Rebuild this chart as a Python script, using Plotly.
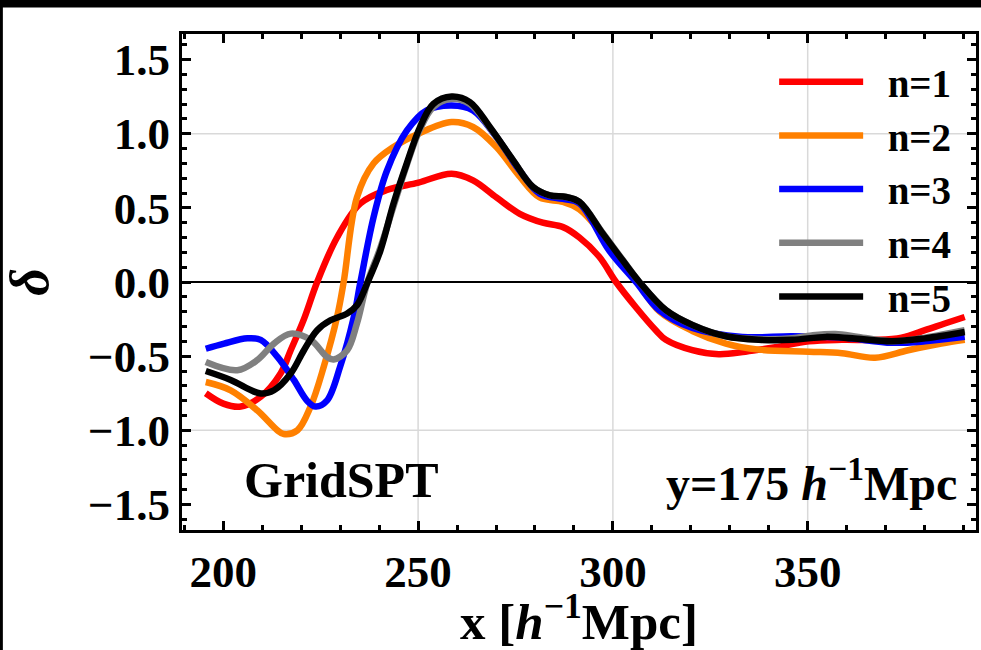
import plotly.graph_objects as go

# ---------------- data ----------------
x_n1 = [195.5, 200, 204.5, 209.6, 214.7, 217.3, 220.7, 224.1, 229.2, 235.2, 242, 250.1, 258.6, 264.1,
        270.1, 276.1, 282, 287.2, 291.4, 296.5, 300.8, 305.9, 311, 313.6, 320.4, 327.2, 334, 341.7,
        350.3, 358.8, 367.3, 374.1, 380.1, 385.2, 390.3]
y_n1 = [-0.75, -0.82, -0.84, -0.774, -0.617, -0.46, -0.25, 0.0, 0.30, 0.53, 0.62, 0.67, 0.73, 0.685,
        0.57, 0.46, 0.40, 0.37, 0.30, 0.17, 0.0, -0.17, -0.325, -0.39, -0.46, -0.487, -0.47, -0.44,
        -0.40, -0.39, -0.39, -0.375, -0.325, -0.28, -0.236]

x_n2 = [195.5, 201.9, 208.7, 213.9, 215.5, 219, 222.4, 225.8, 229.2, 230.9, 234.3, 238.6, 243.7, 250.1,
        258.6, 264.1, 270.1, 276.1, 281.2, 287.2, 291.4, 297.4, 302.5, 306.3, 312, 320.4, 329, 337.5,
        350.3, 358.8, 367.3, 375.8, 384.3, 390.3]
y_n2 = [-0.674, -0.73, -0.865, -1.0, -1.025, -1.0, -0.84, -0.57, -0.236, 0.0, 0.57, 0.80, 0.91, 1.0,
        1.078, 1.045, 0.91, 0.71, 0.57, 0.54, 0.49, 0.32, 0.14, 0.0, -0.20, -0.33, -0.415, -0.456,
        -0.47, -0.48, -0.51, -0.46, -0.415, -0.39]

x_n3 = [195.5, 200.2, 206.2, 209.6, 213.9, 218.1, 221.5, 223.7, 226.6, 230, 233.5, 235.2, 238.6, 242,
        247.1, 252.2, 258.6, 264.1, 270.1, 276.1, 281.2, 287.2, 291.4, 299.1, 305.9, 311.9, 320.4,
        333.2, 346, 358.8, 371.6, 380.1, 390.3]
y_n3 = [-0.45, -0.415, -0.38, -0.39, -0.505, -0.66, -0.80, -0.84, -0.80, -0.57, -0.236, 0.0, 0.44, 0.75,
        1.02, 1.157, 1.19, 1.157, 0.977, 0.75, 0.596, 0.56, 0.53, 0.21, 0.0, -0.19, -0.31,
        -0.37, -0.366, -0.375, -0.41, -0.40, -0.37]

x_n4 = [195.5, 203.6, 208.7, 213, 217.3, 222.4, 226.6, 228.3, 231.8, 234.3, 236.9, 240.3, 243.7, 247.1,
        250.5, 253.9, 258.6, 263.3, 268.4, 274.4, 279.5, 283.8, 288, 291.4, 297.4, 302.5, 306.8, 313.6,
        320.4, 329, 337.5, 346, 351, 357.1, 363, 371.6, 380.1, 390.3]
y_n4 = [-0.54, -0.595, -0.527, -0.415, -0.348, -0.39, -0.505, -0.523, -0.46, -0.28, -0.01, 0.23, 0.51, 0.79,
        1.03, 1.18, 1.235, 1.20, 1.04, 0.82, 0.64, 0.584, 0.573, 0.54, 0.33, 0.15, 0.0, -0.19,
        -0.29, -0.366, -0.385, -0.38, -0.36, -0.35, -0.37, -0.40, -0.375, -0.325]

x_n5 = [195.5, 201.9, 209.6, 213, 217.3, 220.7, 224.1, 227.5, 231.8, 234.3, 236.9, 240.3, 243.7, 247.1,
        250.5, 253.9, 258.6, 263.3, 268.4, 274.4, 279.5, 283.8, 288, 291.4, 297.4, 302.5, 306.8, 313.6,
        320.4, 329, 337.5, 346, 354.6, 361.4, 371.6, 380.1, 390.3]
y_n5 = [-0.60, -0.66, -0.752, -0.73, -0.617, -0.46, -0.325, -0.258, -0.213, -0.157, -0.01, 0.21, 0.53, 0.80,
        1.045, 1.20, 1.25, 1.213, 1.045, 0.82, 0.64, 0.584, 0.573, 0.54, 0.326, 0.146, 0.0, -0.19,
        -0.29, -0.366, -0.39, -0.39, -0.37, -0.38, -0.40, -0.38, -0.337]

series_names = ["n=1", "n=2", "n=3", "n=4", "n=5"]
series_x = [x_n1, x_n2, x_n3, x_n4, x_n5]
series_y = [y_n1, y_n2, y_n3, y_n4, y_n5]
series_colors = ["#ff0000", "#ff8000", "#0000ff", "#808080", "#000000"]

x_range = [189.4, 393.2]
y_range = [-1.672, 1.672]
x_ticks = [200, 250, 300, 350]
y_ticks = [-1.5, -1.0, -0.5, 0.0, 0.5, 1.0, 1.5]
y_tick_text = ["\u22121.5", "\u22121.0", "\u22120.5", "0.0", "0.5", "1.0", "1.5"]
x_grid = [250, 300, 350]
y_grid = [-1.0, 1.0]

FONT = "Liberation Serif, Times New Roman, Times, serif"

fig = go.Figure()
for name, xs, ys, col in zip(series_names, series_x, series_y, series_colors):
    fig.add_trace(go.Scatter(x=xs, y=ys, mode="lines", name="\u2002" + name,
                             line=dict(color=col, width=6.5, shape="spline", smoothing=1.0)))

shapes = []
for gx in x_grid:
    shapes.append(dict(type="line", xref="x", yref="paper", x0=gx, x1=gx, y0=0, y1=1,
                       line=dict(color="#d9d9d9", width=1.5), layer="below"))
for gy in y_grid:
    shapes.append(dict(type="line", xref="paper", yref="y", x0=0, x1=1, y0=gy, y1=gy,
                       line=dict(color="#d9d9d9", width=1.5), layer="below"))
# black band at the top and thin black strip at the left (cropped figure border)
shapes.append(dict(type="rect", xref="paper", yref="paper", x0=-0.3, x1=1.1, y0=1.0534, y1=1.2,
                   fillcolor="black", line=dict(width=0), layer="above"))
shapes.append(dict(type="rect", xref="paper", yref="paper", x0=-0.3, x1=-0.2256, y0=-0.5, y1=1.2,
                   fillcolor="black", line=dict(width=0), layer="above"))

fig.update_layout(
    width=981, height=650,
    margin=dict(l=182, r=2, t=34, b=120),
    paper_bgcolor="white", plot_bgcolor="white",
    font=dict(family=FONT, color="black", size=40, weight="bold"),
    shapes=shapes,
    showlegend=True,
    legend=dict(x=0.975, y=0.968, xanchor="right", yanchor="top",
                bgcolor="rgba(0,0,0,0)", font=dict(family=FONT, size=39, weight="bold"),
                itemwidth=84, tracegroupgap=0),
    annotations=[
        dict(text="GridSPT", xref="paper", yref="paper", x=0.2005, y=0.1, xanchor="center",
             yanchor="middle", showarrow=False, font=dict(family=FONT, size=50, weight="bold")),
        dict(text="y=175 <i>h</i><sup>\u22121</sup>Mpc", xref="paper", yref="paper", x=0.978, y=0.1,
             xanchor="right", yanchor="middle", showarrow=False,
             font=dict(family=FONT, size=48, weight="bold")),
    ],
)

fig.update_xaxes(
    range=x_range, tickvals=x_ticks, ticktext=[str(v) for v in x_ticks],
    showgrid=False, zeroline=False,
    showline=True, linecolor="black", linewidth=3, mirror="ticks",
    ticks="inside", ticklen=9, tickwidth=3, tickcolor="black",
    minor=dict(dtick=10, tick0=200, ticks="inside", ticklen=5, tickwidth=3, tickcolor="black", showgrid=False),
    tickfont=dict(family=FONT, size=45, weight="bold"),
    title=dict(text="x [<i>h</i><sup>\u22121</sup>Mpc]", font=dict(family=FONT, size=51, weight="bold"), standoff=4),
)
fig.update_yaxes(
    range=y_range, tickvals=y_ticks, ticktext=y_tick_text,
    showgrid=False, zeroline=True, zerolinecolor="black", zerolinewidth=1.5,
    showline=True, linecolor="black", linewidth=3, mirror="ticks",
    ticks="inside", ticklen=9, tickwidth=3, tickcolor="black",
    minor=dict(dtick=0.1, tick0=0, ticks="inside", ticklen=5, tickwidth=3, tickcolor="black", showgrid=False),
    tickfont=dict(family=FONT, size=45, weight="bold"),
    title=dict(text="<i>\u03b4</i>", font=dict(family=FONT, size=54, weight="bold"), standoff=30),
)

fig.write_html("out.html")
